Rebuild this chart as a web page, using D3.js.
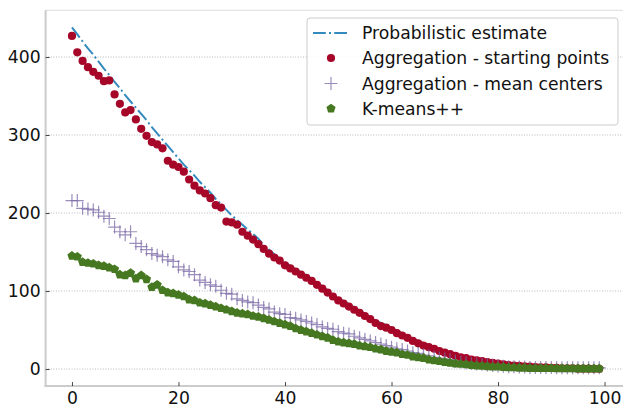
<!DOCTYPE html>
<html><head><meta charset="utf-8">
<script src="https://cdn.jsdelivr.net/npm/d3@7"></script>
<style>html,body{margin:0;padding:0;background:#fff;}svg{display:block;font-family:"DejaVu Sans",sans-serif;}</style>
</head><body><svg id="c" width="623" height="407"></svg>
<script>
const seriesNames = ["Probabilistic estimate","Aggregation - starting points","Aggregation - mean centers","K-means++"];
const xTicks = [0,20,40,60,80,100];
const yTicks = [0,100,200,300,400];
const probabilistic = [438,429,420,411,403,394,385,377,368,360,351,343,335,327,319,310,302,294,286,278,270,262,255,248,240,233,226,218,211,204,197,191,185,179,173,167,159,153,147,142,137,132,128,124,120,115,111,106,101,96,91,87,83,79,75,71,67,62,59,56,53,49,46,43,39,36,33,31,28,25,23,21,19,17,16,14,13,11.5,10.5,9.5,8.5,7.5,6.5,6,5,4.5,4,3.5,3,2.8,2.5,2.2,2,1.8,1.6,1.4,1.3,1.2,1.1,1];
const startingPoints = [427,406,395,387,381,376,369,370,352,340,329,332,320,308,299,291,288,283,267,262,259,253,243,235,229,225,219,210,207,189,188,185,176,171,166,160,154,148,143,139,133,129,125,121,117,113,108,103,98,93,88,84,80,76,72,68,64,59,55,53,50,46,43,40,36,33,30,28,26,23,21,19,17,15,14,12,11,10,9,8,7,6,5,4.5,4,3.5,3,2.5,2,2,1.5,1.5,1,1,1,0.5,0.5,0.5,0.3,0.2];
const meanCenters = [216,216,206,205,204,201,196,193,182,176,172,176,161,157,153,148,146,144,140,138,131,127,125,121,114,111,108,106,101,97,96,90,88,86,85,82,79,77,73,71,70,66,65,63,61,59,57,54,52,51,48,46,45,42,40,38,36,34,32,30,28,26,25,23,21,20,18,17,15,14,13,12,10,9,8,7,6.5,6,5,4.5,4,3.5,3,3,2.5,2.5,2,2,2,2,2,1.5,1.5,1.5,1.5,1.5,1.5,1.5,1.5,1.5];
const kmeans = [145,144,137,136,135,133,132,130,128,121,120,123,116,120,115,105,108,101,98,97,95,93,89,88,85,84,82,80,78,76,74,72,71,70,68,67,65,63,61,59,57,55,52,50,48,46,44,42,40,37,35,34,33,32,30,29,28,26,25,23,22,21,19,18,16,15,14,12,11,10,9,8,7,6.5,6,5,4.5,4,3.5,3,3,2.5,2,2,1.5,1.5,1,1,1,1,1,0.8,0.8,0.7,0.7,0.6,0.6,0.5,0.5,0.5];
const colors = ["#348ABD","#A60628","#7A68A6","#467821"];

const svg = d3.select("#c");
const L = 45.6, R = 625.6, T = 10.3, B = 386.1;
const FS = 17.2;
const x = d3.scaleLinear().domain([-4.95,103.95]).range([L,R]);
const y = d3.scaleLinear().domain([-21.9,459.9]).range([B,T]);

// grid
svg.append("g").selectAll("line").data(yTicks).join("line")
  .attr("x1",L).attr("x2",R).attr("y1",d=>y(d)).attr("y2",d=>y(d))
  .attr("stroke","#b0b0b0").attr("stroke-width",0.9).attr("stroke-dasharray","1,1.6");

// frame
svg.append("rect").attr("x",L).attr("y",T).attr("width",R-L).attr("height",B-T)
  .attr("fill","none").attr("stroke","#dcdcdc").attr("stroke-width",1);
svg.append("line").attr("x1",L).attr("x2",L).attr("y1",T).attr("y2",B+1).attr("stroke","#cccccc").attr("stroke-width",2);
svg.append("line").attr("x1",L-1).attr("x2",R).attr("y1",B).attr("y2",B).attr("stroke","#cccccc").attr("stroke-width",2);

// axes
const xAxis = d3.axisBottom(x).tickValues(xTicks).tickSize(-4).tickPadding(6).tickFormat(d3.format("d"));
const gx = svg.append("g").attr("transform",`translate(0,${B})`).call(xAxis);
const yAxis = d3.axisLeft(y).tickValues(yTicks).tickSize(-4).tickPadding(5).tickFormat(d3.format("d"));
const gy = svg.append("g").attr("transform",`translate(${L},0)`).call(yAxis);
[gx,gy].forEach(g=>{
  g.select(".domain").remove();
  g.selectAll(".tick line").attr("stroke","#444").attr("stroke-width",1);
  g.selectAll(".tick text").attr("fill","#111").attr("font-size",FS).attr("font-family","DejaVu Sans");
});

// probabilistic line
const line = d3.line().x((d,i)=>x(i)).y(d=>y(d));
svg.append("path").datum(probabilistic).attr("d",line).attr("fill","none")
  .attr("stroke",colors[0]).attr("stroke-width",2).attr("stroke-dasharray","12.8,3.2,2,3.2");

// starting points
svg.append("g").selectAll("circle").data(startingPoints).join("circle")
  .attr("cx",(d,i)=>x(i)).attr("cy",d=>y(d)).attr("r",4.1).attr("fill",colors[1]);

// mean centers
const plus = (s)=>`M${-s},0H${s}M0,${-s}V${s}`;
svg.append("g").selectAll("path").data(meanCenters).join("path")
  .attr("transform",(d,i)=>`translate(${x(i)},${y(d)})`).attr("d",plus(6.5))
  .attr("stroke",colors[2]).attr("stroke-width",1.2).attr("stroke-opacity",0.75).attr("fill","none");

// kmeans pentagons
const pent = (r)=>{const p=d3.range(5).map(k=>{const a=-Math.PI/2+k*2*Math.PI/5;return [r*Math.cos(a),r*Math.sin(a)];});return "M"+p.map(q=>q.join(",")).join("L")+"Z";};
svg.append("g").selectAll("path").data(kmeans).join("path")
  .attr("transform",(d,i)=>`translate(${x(i)},${y(d)})`).attr("d",pent(4.8)).attr("fill",colors[3]);

// legend
const lg = svg.append("g");
lg.append("rect").attr("x",307).attr("y",18).attr("width",311).attr("height",107).attr("rx",3)
  .attr("fill","#fff").attr("fill-opacity",0.85).attr("stroke","#cccccc").attr("stroke-width",1);
const rowY = [33,58,83.5,108.5];
lg.append("line").attr("x1",313).attr("x2",349).attr("y1",rowY[0]).attr("y2",rowY[0])
  .attr("stroke",colors[0]).attr("stroke-width",2).attr("stroke-dasharray","12.8,3.2,2,3.2");
lg.append("circle").attr("cx",331).attr("cy",rowY[1]).attr("r",4.1).attr("fill",colors[1]);
lg.append("path").attr("transform",`translate(331,${rowY[2]})`).attr("d",plus(6.5))
  .attr("stroke",colors[2]).attr("stroke-width",1.2).attr("stroke-opacity",0.75);
lg.append("path").attr("transform",`translate(331,${rowY[3]})`).attr("d",pent(4.8)).attr("fill",colors[3]);
lg.selectAll("text").data(seriesNames).join("text")
  .attr("x",362).attr("y",(d,i)=>rowY[i]+6).attr("font-size",FS).attr("fill","#111").text(d=>d);
</script></body></html>
